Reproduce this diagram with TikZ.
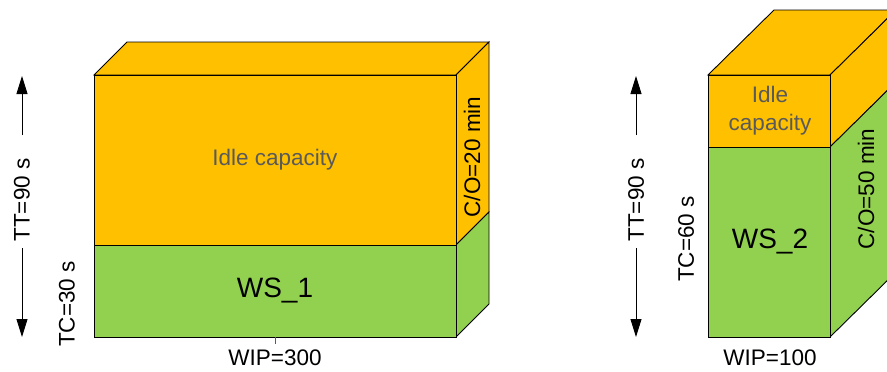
\documentclass[tikz,border=0pt]{standalone}
\usepackage{fontspec}
\setmainfont{Liberation Sans}
\usetikzlibrary{arrows.meta}
\definecolor{idle}{HTML}{FFC000}
\definecolor{work}{HTML}{92D050}
\definecolor{txtgray}{HTML}{5A5A5A}
\tikzset{
  face/.style={draw=black, line width=0.9pt, line join=miter},
  lbl/.style={font=\fontsize{22.5}{26}\selectfont, inner sep=0pt, text=black},
  graylbl/.style={font=\fontsize{22.5}{28}\selectfont, inner sep=0pt, text=txtgray, align=center},
  wslbl/.style={font=\fontsize{28}{32}\selectfont, inner sep=0pt, text=black},
  vlbl/.style={lbl, rotate=90},
  tarrow/.style={-{Triangle[length=18pt,width=11pt]}, line width=0.9pt}
}
\begin{document}
\begin{tikzpicture}[x=1pt,y=-1pt]
\clip (0,0) rectangle (887,372);
\fill[white] (0,0) rectangle (887,372);
% ---------- Box 1 ----------
% top face
\filldraw[face, fill=idle] (94,75) -- (127,42) -- (489,42) -- (456,75) -- cycle;
% side face: orange upper, green lower
\filldraw[face, fill=idle] (456,75) -- (489,42) -- (489,212) -- (456,245) -- cycle;
\filldraw[face, fill=work] (456,245) -- (489,212) -- (489,304) -- (456,337) -- cycle;
% front face
\filldraw[face, fill=idle] (94,75) rectangle (456,245);
\filldraw[face, fill=work] (94,245) rectangle (456,337);
% tick below
\draw[txtgray, line width=0.9pt] (275,337) -- (275,344);
\node[graylbl] (idle1) at (275,160) {Idle capacity};
\node[wslbl] (ws1) at (275,291) {WS\_1};
\node[lbl] (wip1) at (275,358) {WIP=300};
\node[vlbl] (co1) at (472,157) {C/O=20 min};
\node[vlbl] (tc1) at (67,304) {TC=30 s};
\node[vlbl] (tt1) at (22,200) {TT=90 s};
\coordinate (up1) at (22,76);
\coordinate (dn1) at (22,337);
\coordinate (ua1) at (22,135);
\coordinate (da1) at (22,248);
\draw[tarrow] (ua1) -- (up1);
\draw[tarrow] (da1) -- (dn1);
% ---------- Box 2 ----------
\filldraw[face, fill=idle] (708,75) -- (774,10) -- (896,10) -- (830,75) -- cycle;
\filldraw[face, fill=idle] (830,75) -- (896,10) -- (896,82) -- (830,147) -- cycle;
\filldraw[face, fill=work] (830,147) -- (896,82) -- (896,272) -- (830,337) -- cycle;
\filldraw[face, fill=idle] (708,75) rectangle (830,147);
\filldraw[face, fill=work] (708,147) rectangle (830,337);
\node[graylbl] (idle2) at (770,111) {Idle\\capacity};
\node[wslbl] (ws2) at (770,242) {WS\_2};
\node[lbl] (wip2) at (770,358) {WIP=100};
\node[vlbl] (co2) at (866,189) {C/O=50 min};
\node[vlbl] (tc2) at (686,239) {TC=60 s};
\node[vlbl] (tt2) at (636,200) {TT=90 s};
\coordinate (up2) at (636,76);
\coordinate (dn2) at (636,337);
\coordinate (ua2) at (636,135);
\coordinate (da2) at (636,248);
\draw[tarrow] (ua2) -- (up2);
\draw[tarrow] (da2) -- (dn2);
\end{tikzpicture}
\end{document}
